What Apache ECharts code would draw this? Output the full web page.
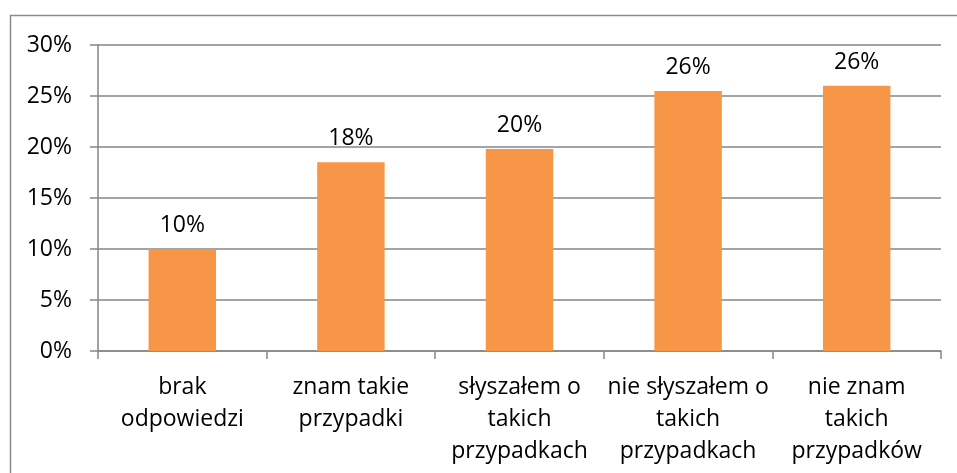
<!DOCTYPE html>
<html>
<head>
<meta charset="utf-8">
<script src="https://cdn.jsdelivr.net/npm/echarts@6/dist/echarts.min.js"></script>
<style>
  html, body { margin: 0; padding: 0; background: #fff; }
  #chart { width: 957px; height: 473px; }
</style>
</head>
<body>
<div id="chart"></div>
<script>
  // kategorie i wartości (%)
  const categories = ['brak\nodpowiedzi', 'znam takie\nprzypadki', 'słyszałem o\ntakich\nprzypadkach', 'nie słyszałem o\ntakich\nprzypadkach', 'nie znam\ntakich\nprzypadków'];
  const values = [10.0, 18.5, 19.8, 25.5, 26.0];
  const labels = ['10%', '18%', '20%', '26%', '26%'];

  const font = '"Open Sans", "Noto Sans", sans-serif';
  const fsize = 23;
  const chart = echarts.init(document.getElementById('chart'));

  chart.setOption({
    animation: false,
    grid: { left: 98, right: 16, top: 45, bottom: 122 },
    graphic: [
      {
        type: 'rect',
        shape: { x: 10.5, y: 15.5, width: 1200, height: 800 },
        style: { fill: 'none', stroke: '#8c8c8c', lineWidth: 1.5 },
        silent: true
      }
    ],
    xAxis: {
      type: 'category',
      data: categories,
      axisLine: { lineStyle: { color: '#868686', width: 1.5 } },
      axisTick: { show: true, length: 8, lineStyle: { color: '#868686', width: 1.5 } },
      axisLabel: {
        interval: 0,
        margin: 20,
        color: '#000',
        fontFamily: font,
        fontSize: fsize,
        lineHeight: 32
      }
    },
    yAxis: {
      type: 'value',
      min: 0,
      max: 30,
      interval: 5,
      axisLine: { show: true, lineStyle: { color: '#868686', width: 1.5 } },
      axisTick: { show: true, length: 8, lineStyle: { color: '#868686', width: 1.5 } },
      splitLine: { lineStyle: { color: '#868686', width: 1.5 } },
      axisLabel: {
        formatter: '{value}%',
        margin: 26,
        color: '#000',
        fontFamily: font,
        fontSize: fsize
      }
    },
    series: [
      {
        type: 'bar',
        data: values,
        barWidth: '40%',
        itemStyle: { color: '#F79646' },
        label: {
          show: true,
          position: 'top',
          distance: 12,
          color: '#000',
          fontFamily: font,
          fontSize: fsize,
          formatter: p => labels[p.dataIndex]
        }
      }
    ]
  });
</script>
</body>
</html>
